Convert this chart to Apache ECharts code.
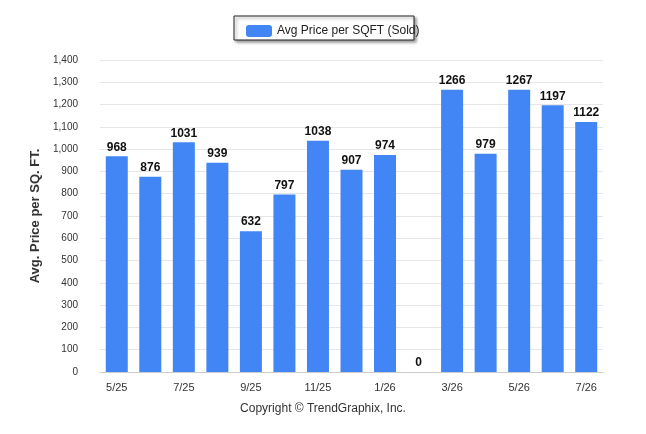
<!DOCTYPE html>
<html>
<head>
<meta charset="utf-8">
<script src="https://cdn.jsdelivr.net/npm/echarts@6/dist/echarts.min.js"></script>
<style>html,body{margin:0;padding:0;background:#fff}</style>
</head>
<body>
<div id="main" style="width:646px;height:434px"></div>
<script>
// months and sold price per square foot
var months = ['5/25','6/25','7/25','8/25','9/25','10/25','11/25','12/25','1/26','2/26','3/26','4/26','5/26','6/26','7/26'];
var prices = [968, 876, 1031, 939, 632, 797, 1038, 907, 974, 0, 1266, 979, 1267, 1197, 1122];

var myChart = echarts.init(document.getElementById('main'));
myChart.setOption({
    textStyle: { fontFamily: 'Arial, Liberation Sans, sans-serif' },
    graphic: [
        { type: 'rect', shape: { x: 234, y: 16, width: 180, height: 24 },
          style: { fill: '#fff', stroke: '#222', lineWidth: 1, shadowBlur: 3, shadowOffsetX: 2, shadowOffsetY: 2, shadowColor: 'rgba(0,0,0,0.4)' } },
        { type: 'text', left: 'center', top: 403,
          style: { text: 'Copyright © TrendGraphix, Inc.', fill: '#333', fontSize: 12 } }
    ],
    legend: {
        top: 20, left: 241, itemWidth: 26, itemHeight: 12, itemGap: 0,
        textStyle: { fontSize: 12, color: '#222' },
        data: ['Avg Price per SQFT (Sold)']
    },
    grid: { left: 100, right: 43, top: 60, bottom: 62 },
    xAxis: {
        type: 'category', data: months,
        axisLine: { lineStyle: { color: '#ccc' } },
        axisTick: { show: false },
        axisLabel: { color: '#333', fontSize: 11, margin: 10 }
    },
    yAxis: {
        type: 'value', min: 0, max: 1400, interval: 100,
        name: 'Avg. Price per SQ. FT.', nameLocation: 'middle', nameGap: 55,
        nameTextStyle: { fontSize: 13, fontWeight: 'bold', color: '#333' },
        axisLabel: { color: '#333', fontSize: 10, margin: 22 },
        splitLine: { lineStyle: { color: '#e6e6e6' } }
    },
    series: [{
        name: 'Avg Price per SQFT (Sold)', type: 'bar', data: prices,
        barWidth: 22,
        itemStyle: { color: '#4285f4' },
        label: { show: true, position: 'top', fontWeight: 'bold', fontSize: 12, color: '#111', distance: 3 }
    }]
});
</script>
</body>
</html>
